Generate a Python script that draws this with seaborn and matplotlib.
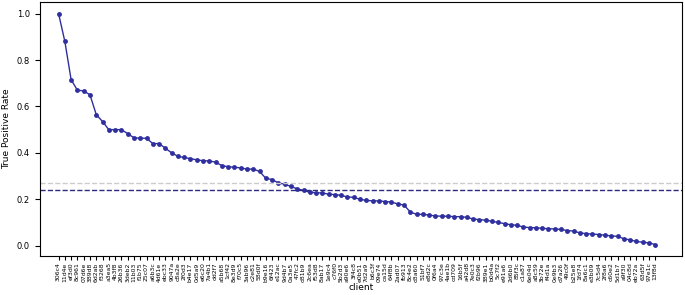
import numpy as np
import pandas as pd
import matplotlib
matplotlib.use("Agg")
import matplotlib.pyplot as plt
import seaborn as sns

# client ids (sorted by true positive rate)
clients = [
    "306c4", "11d4e", "ef3d0", "8c961", "07d6e", "389d8", "6d2ab", "f3268",
    "a3ea5", "4b3f8", "26b36", "3deb2", "11b03", "f1b75", "25c07", "a6b3c",
    "4d61e", "ebc33", "9047a", "c8a2e", "2f0d3", "b4e17", "0d5a9", "e6c20",
    "7a4b1", "dd2f7", "a5b68", "1cf42", "8e3d9", "f70c5", "3ab96", "c2e81",
    "58d0f", "b9e16", "6f423", "e12ac", "9d4b7", "0a3e5", "47fc2", "d81b9",
    "2c6ea", "f53d8", "8ab17", "1e9c4", "c76f0", "5b2d3", "a90e6", "3f4c8",
    "e0b51", "7d2a9", "b6c3f", "09e74", "ca15d", "64f8b", "2ad07", "fb913",
    "8c4e2", "d3a60", "51bf7", "e8d2c", "0f6a4", "97c3e", "4ae1b", "cd709",
    "16b5f", "a42d8", "7e0c3", "f2b96", "389e1", "b0d4a", "5c7f2", "e91a6",
    "2d6b0", "85f3c", "c1a87", "6e04d", "a8c59", "3b72e", "f4d1a", "0e9b3",
    "d7a26", "49c0f", "b25e8", "1fd74", "8a6c1", "e3b09", "7c5d4", "2f8a6",
    "c60e2", "5d1b7", "a9f30", "04c8d", "eb72a", "63d5f", "97e1c", "13f8d",
]

# true positive rate per client
tpr = [
    1.000, 0.880, 0.715, 0.670, 0.667, 0.650, 0.565, 0.535,
    0.500, 0.500, 0.500, 0.483, 0.465, 0.463, 0.463, 0.440,
    0.440, 0.420, 0.400, 0.385, 0.380, 0.375, 0.370, 0.366,
    0.365, 0.360, 0.345, 0.340, 0.338, 0.335, 0.330, 0.330,
    0.320, 0.290, 0.285, 0.270, 0.265, 0.255, 0.245, 0.238,
    0.230, 0.228, 0.227, 0.222, 0.220, 0.217, 0.210, 0.208,
    0.200, 0.195, 0.193, 0.193, 0.190, 0.188, 0.180, 0.175,
    0.145, 0.135, 0.135, 0.132, 0.128, 0.127, 0.127, 0.125,
    0.125, 0.122, 0.115, 0.112, 0.110, 0.105, 0.100, 0.095,
    0.090, 0.088, 0.080, 0.078, 0.077, 0.075, 0.073, 0.072,
    0.070, 0.065, 0.063, 0.055, 0.052, 0.050, 0.048, 0.045,
    0.042, 0.040, 0.030, 0.025, 0.018, 0.015, 0.012, 0.005,
]

mean_tpr = 0.242
ref_tpr = 0.272

df = pd.DataFrame({"idx": np.arange(len(clients)), "client": clients, "tpr": tpr})

plt.rcParams["font.family"] = ["DejaVu Sans"]
fig, ax = plt.subplots(figsize=(6.85, 2.95), dpi=100)
fig.subplots_adjust(left=0.058, right=0.996, top=0.993, bottom=0.132)

sns.lineplot(data=df, x="idx", y="tpr", ax=ax, color="#2f2f9e", linewidth=1.0,
             marker="o", markersize=3.5, markeredgewidth=0)
ax.axhline(ref_tpr, color="#cccccc", linestyle="--", linewidth=1.0)
ax.axhline(mean_tpr, color="#2a2a80", linestyle="--", linewidth=1.0)

ax.set_xticks(df["idx"])
ax.set_xticklabels(df["client"], rotation=90, fontsize=4.4)
ax.set_xlim(-3, len(clients) - 1 + 4.3)
ax.set_yticks([0.0, 0.2, 0.4, 0.6, 0.8, 1.0])
ax.tick_params(axis="y", labelsize=6)
ax.tick_params(axis="x", pad=1.5, length=3)
ax.set_xlabel("client", fontsize=6.5, labelpad=1)
ax.set_ylabel("True Positive Rate", fontsize=6.5, labelpad=4)

fig.savefig("out.png", dpi=100)
